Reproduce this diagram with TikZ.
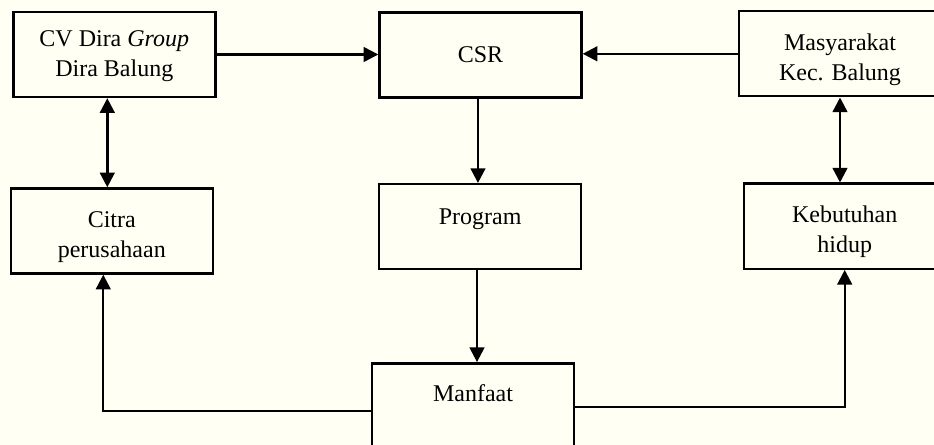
\documentclass[tikz,border=0pt]{standalone}
\usepackage{fontspec}
\setmainfont{Liberation Serif}
\usepackage{xcolor}
\usetikzlibrary{arrows.meta}

\definecolor{krem}{RGB}{255,255,243}
\newcommand{\turun}[1]{\rule{0pt}{#1}}
\tikzset{
    kotak/.style={draw, line width=1.8pt, minimum width=151.5pt,
      minimum height=63.75pt, inner sep=0pt, align=center,
      font=\fontsize{18}{22.5}\selectfont},
    panah/.style={line width=1.8pt, -{Triangle[length=11pt,width=11pt]}},
    panahdua/.style={line width=1.8pt,
      {Triangle[length=11pt,width=11pt]}-{Triangle[length=11pt,width=11pt]}},
}

\begin{document}
\begin{tikzpicture}[x=0.75pt,y=-0.75pt]
    \fill[krem] (0,0) rectangle (934,445);
    \useasboundingbox (0,0) rectangle (934,445);
    % kotak-kotak
    \node[kotak] (cv) at (114.3,54.5) {\turun{15pt}CV Dira \textit{Group}\\Dira Balung};
    \node[kotak] (csr) at (480.5,55) {CSR};
    \node[kotak] (masy) at (840,53.8) {\turun{22pt}Masyarakat\\Kec. Balung};
    \node[kotak] (citra) at (111.8,231) {\turun{20.5pt}Citra\\perusahaan};
    \node[kotak, text height=12pt, text depth=16pt] (prog) at (480.2,226.7) {Program};
    \node[kotak] (kebut) at (844.7,226.2) {\turun{20.5pt}Kebutuhan\\hidup};
    \node[kotak, text height=12pt, text depth=18pt] (manfaat) at (473,405.8) {Manfaat};
    % panah
    \draw[panah] (cv.east) -- (cv.east -| csr.west);
    \draw[panah] (masy.west) -- (masy.west -| csr.east);
    \draw[panahdua] ([xshift=-5.25pt]cv.south)
      -- ([xshift=-5.25pt]cv.south |- citra.north);
    \draw[panahdua] (masy.south) -- (masy.south |- kebut.north);
    \draw[panah] ([xshift=-1.9pt]csr.south)
      -- ([xshift=-1.9pt]csr.south |- prog.north);
    \draw[panah] ([xshift=-2.4pt]prog.south)
      -- ([xshift=-2.4pt]prog.south |- manfaat.north);
    \draw[panah] ([yshift=-3.7pt]manfaat.west) -| ([xshift=-6.4pt]citra.south);
    \draw[panah] ([yshift=-1.1pt]manfaat.east) -| (kebut.south);
\end{tikzpicture}
\end{document}
